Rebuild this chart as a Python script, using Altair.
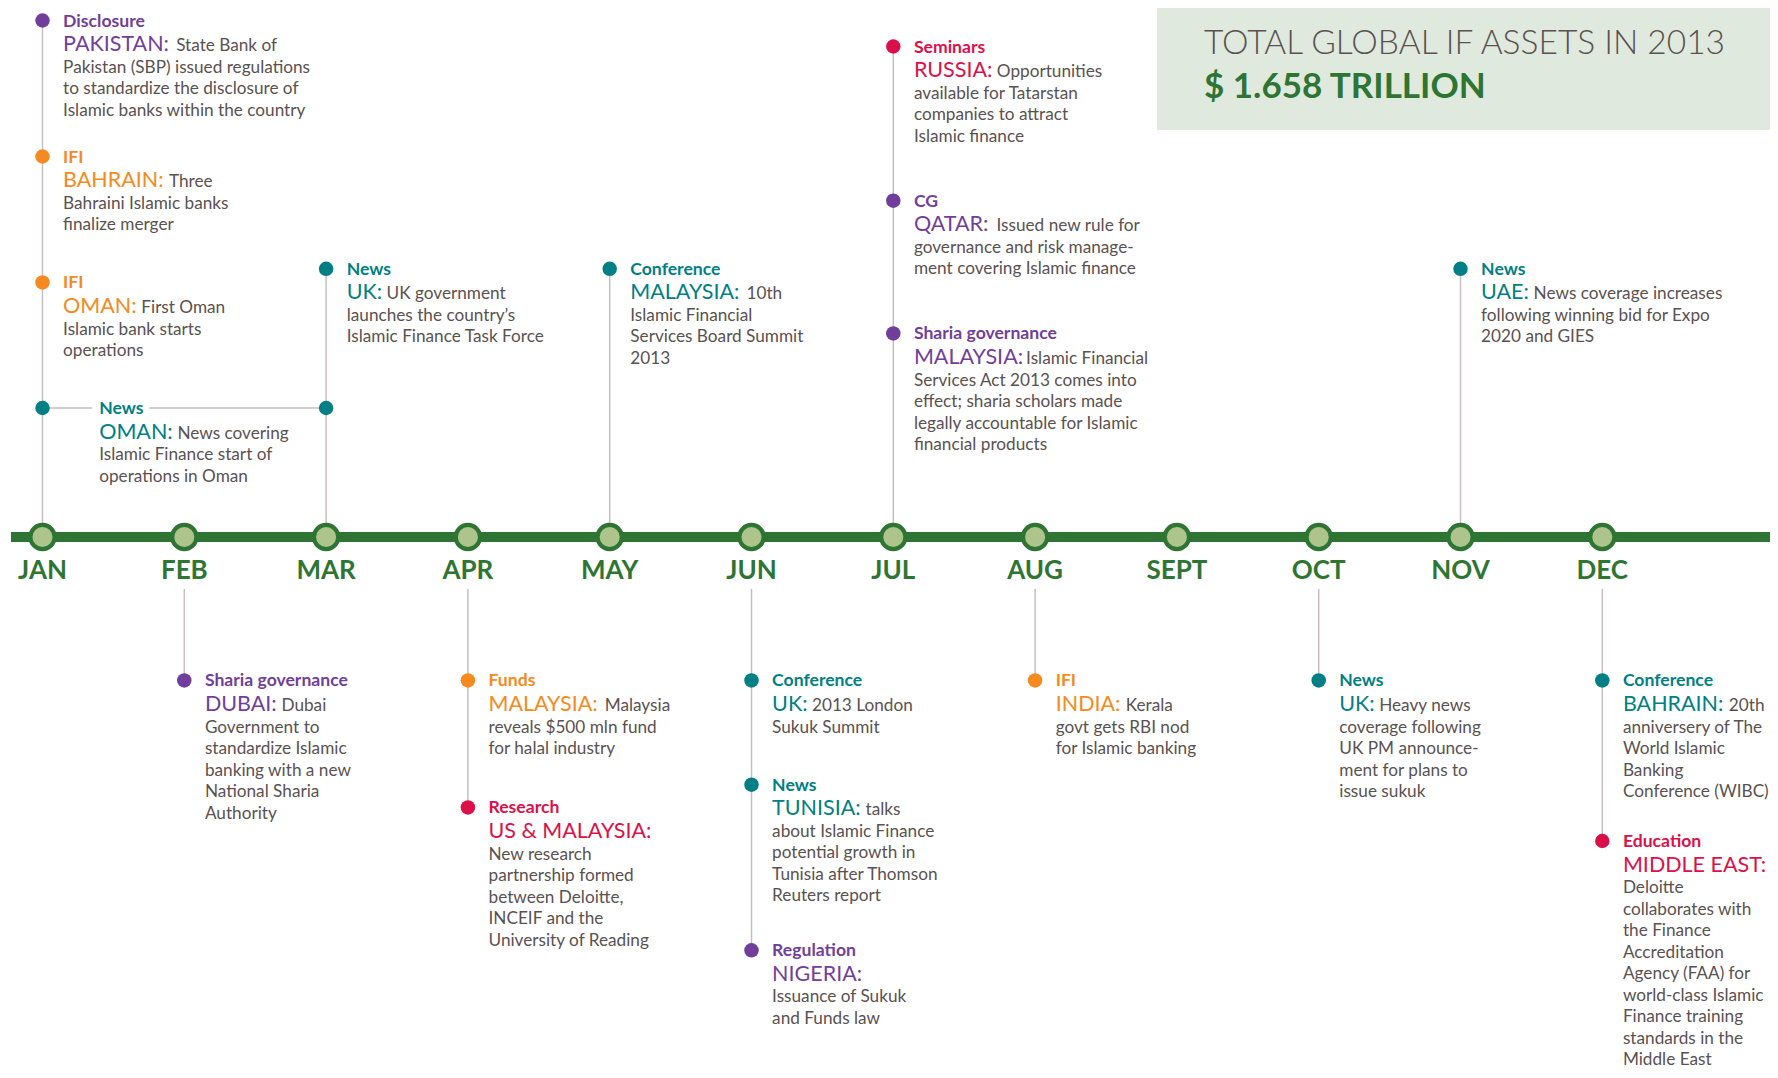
import altair as alt
import pandas as pd

# ---------------- data ----------------
months = ["JAN", "FEB", "MAR", "APR", "MAY", "JUN", "JUL", "AUG", "SEPT", "OCT", "NOV", "DEC"]

ev_month = [0, 0, 0, 0, 2, 4, 6, 6, 6, 10, 1, 3, 3, 5, 5, 5, 7, 9, 11, 11]
ev_slot = [20.5, 156.5, 282.4, 408.0, 268.8, 268.8, 46.5, 200.7, 333.4, 268.8,
           680.4, 680.4, 807.4, 680.4, 784.7, 950.3, 680.4, 680.4, 680.4, 841.0]
ev_cat = ["Disclosure", "IFI", "IFI", "News", "News", "Conference", "Seminars", "CG",
          "Sharia governance", "News", "Sharia governance", "Funds", "Research", "Conference",
          "News", "Regulation", "IFI", "News", "Conference", "Education"]
ev_country = ["PAKISTAN", "BAHRAIN", "OMAN", "OMAN", "UK", "MALAYSIA", "RUSSIA", "QATAR",
              "MALAYSIA", "UAE", "DUBAI", "MALAYSIA", "US & MALAYSIA", "UK", "TUNISIA",
              "NIGERIA", "INDIA", "UK", "BAHRAIN", "MIDDLE EAST"]
ev_desc = [
    ["State Bank of", "Pakistan (SBP) issued regulations", "to standardize the disclosure of",
     "Islamic banks within the country"],
    ["Three", "Bahraini Islamic banks", "finalize merger"],
    ["First Oman", "Islamic bank starts", "operations"],
    ["News covering", "Islamic Finance start of", "operations in Oman"],
    ["UK government", "launches the country’s", "Islamic Finance Task Force"],
    ["10th", "Islamic Financial", "Services Board Summit", "2013"],
    ["Opportunities", "available for Tatarstan", "companies to attract", "Islamic finance"],
    ["Issued new rule for", "governance and risk manage-", "ment covering Islamic finance"],
    ["Islamic Financial", "Services Act 2013 comes into", "effect; sharia scholars made",
     "legally accountable for Islamic", "financial products"],
    ["News coverage increases", "following winning bid for Expo", "2020 and GIES"],
    ["Dubai", "Government to", "standardize Islamic", "banking with a new", "National Sharia",
     "Authority"],
    ["Malaysia", "reveals $500 mln fund", "for halal industry"],
    ["", "New research", "partnership formed", "between Deloitte,", "INCEIF and the",
     "University of Reading"],
    ["2013 London", "Sukuk Summit"],
    ["talks", "about Islamic Finance", "potential growth in", "Tunisia after Thomson",
     "Reuters report"],
    ["", "Issuance of Sukuk", "and Funds law"],
    ["Kerala", "govt gets RBI nod", "for Islamic banking"],
    ["Heavy news", "coverage following", "UK PM announce-", "ment for plans to", "issue sukuk"],
    ["20th", "anniversery of The", "World Islamic", "Banking", "Conference (WIBC)"],
    ["", "Deloitte", "collaborates with", "the Finance", "Accreditation", "Agency (FAA) for",
     "world-class Islamic", "Finance training", "standards in the", "Middle East"],
]
# link: JAN "News" (event 3) joined to a dot on the MAR stem
link_from_month, link_to_month, link_slot = 0, 2, 408.0

cats = ["Disclosure", "IFI", "News", "Conference", "Seminars", "CG", "Sharia governance",
        "Funds", "Research", "Regulation", "Education"]
cat_colors = ["#713f9b", "#f48a20", "#007f84", "#007f84", "#db1049", "#713f9b", "#713f9b",
              "#f48a20", "#db1049", "#713f9b", "#db1049"]

title_line1 = "TOTAL GLOBAL IF ASSETS IN 2013"
title_line2 = "$ 1.658 TRILLION"

# ---------------- layout / style ----------------
W, H = 1762, 1062
MARGIN = 8
X0 = 42.5
STEP = 141.8
LINE_Y = 537.0
MONTH_LABEL_Y = 579.0
BELOW_START = 589.0
TEXT_DX = 20.6
LABEL_DY = 6.0
COUNTRY_DY = 30.6
LINE_STEP = 21.5
GAP = 5.0
COUNTRY_SIZE = 21.5
DESC_SIZE = 17.2
LABEL_SIZE = 17.6
FONT = "Lato"

GREEN = "#2e7533"
LIGHT_GREEN = "#adc48c"
GRAY_TEXT = "#5a5151"
GRAY_LINE = "#c6bfc1"
BOX = "#e0e9de"

indent_override = {3: 56.7}
no_gap = {8}

UP_W = {'A': .685, 'B': .636, 'C': .684, 'D': .75, 'E': .562, 'F': .545, 'G': .72, 'H': .764,
        'I': .295, 'K': .658, 'L': .498, 'M': .93, 'N': .764, 'O': .792, 'P': .592, 'Q': .792,
        'R': .628, 'S': .526, 'T': .585, 'U': .728, 'Y': .634, ' ': .193, ':': .235, '&': .69}


def text_w(s, size):
    return sum(UP_W.get(c, .6) for c in s) * size


def px_to_m(px):
    return (px - X0) / STEP


d0 = px_to_m(MARGIN)
d1 = px_to_m(MARGIN + W)
xs = alt.Scale(domain=[d0, d1], nice=False, zero=False)
ys = alt.Scale(domain=[MARGIN, MARGIN + H], nice=False, zero=False, reverse=True)
cscale = alt.Scale(domain=cats, range=cat_colors)

# ---------------- tables ----------------
text_rows = []
for i in range(len(ev_month)):
    m = ev_month[i]
    yy = ev_slot[i]
    ind = indent_override.get(i, TEXT_DX)
    text_rows.append(dict(m=m + ind / STEP, y=yy + LABEL_DY, text=ev_cat[i], kind="label", cat=ev_cat[i]))
    ctext = ev_country[i] + ":"
    text_rows.append(dict(m=m + ind / STEP, y=yy + COUNTRY_DY, text=ctext, kind="country", cat=ev_cat[i]))
    for k, line in enumerate(ev_desc[i]):
        if k == 0:
            if not line:
                continue
            off = ind + text_w(ctext, COUNTRY_SIZE) + (1.0 if i in no_gap else GAP)
        else:
            off = ind
        text_rows.append(dict(m=m + off / STEP, y=yy + COUNTRY_DY + LINE_STEP * k, text=line,
                              kind="desc", cat=ev_cat[i]))
tdf = pd.DataFrame(text_rows)

dots = pd.DataFrame(dict(m=ev_month + [link_to_month], y=ev_slot + [link_slot],
                         cat=ev_cat + ["News"]))

# stems
rules = []
for mo in sorted(set(ev_month)):
    above = [ev_slot[i] for i in range(len(ev_month)) if ev_month[i] == mo and ev_slot[i] < LINE_Y]
    below = [ev_slot[i] for i in range(len(ev_month)) if ev_month[i] == mo and ev_slot[i] > LINE_Y]
    if above:
        rules.append(dict(m=mo, m2=mo, y=min(above), y2=LINE_Y))
    if below:
        rules.append(dict(m=mo, m2=mo, y=BELOW_START, y2=max(below)))
# horizontal link with a gap around the label
lab_start = indent_override[3]
lab_end = lab_start + 42
rules.append(dict(m=link_from_month, m2=link_from_month + (lab_start - 7) / STEP, y=link_slot, y2=link_slot))
rules.append(dict(m=link_from_month + (lab_end + 8) / STEP, m2=link_to_month, y=link_slot, y2=link_slot))
rdf = pd.DataFrame(rules)

mdf = pd.DataFrame(dict(m=list(range(12)), y=[LINE_Y] * 12, ly=[MONTH_LABEL_Y] * 12, text=months))


def X(f="m"):
    return alt.X(f"{f}:Q", scale=xs, axis=None)


def Y(f="y"):
    return alt.Y(f"{f}:Q", scale=ys, axis=None)


box = alt.Chart(pd.DataFrame(dict(m=[px_to_m(1157)], m2=[d1], y=[MARGIN], y2=[130.0]))).mark_rect(
    color=BOX).encode(x=X(), x2="m2:Q", y=Y(), y2="y2:Q")

title = alt.Chart(pd.DataFrame(dict(m=[px_to_m(1204)], y=[54.0], text=[title_line1]))).mark_text(
    align="left", baseline="alphabetic", font=FONT, fontSize=33.5, fontWeight=300, color=GRAY_TEXT
).encode(x=X(), y=Y(), text="text:N")
title2 = alt.Chart(pd.DataFrame(dict(m=[px_to_m(1204)], y=[98.0], text=[title_line2]))).mark_text(
    align="left", baseline="alphabetic", font=FONT, fontSize=35, fontWeight="bold", color=GREEN
).encode(x=X(), y=Y(), text="text:N")

stems = alt.Chart(rdf).mark_rule(color=GRAY_LINE, strokeWidth=1.5).encode(
    x=X(), x2="m2:Q", y=Y(), y2="y2:Q")

timeline = alt.Chart(pd.DataFrame(dict(m=[px_to_m(11)], m2=[d1], y=[LINE_Y]))).mark_rule(
    color=GREEN, strokeWidth=10).encode(x=X(), x2="m2:Q", y=Y())

mcircles = alt.Chart(mdf).mark_point(shape="circle", filled=True, fill=LIGHT_GREEN, stroke=GREEN,
                                     strokeWidth=4.2, size=590, opacity=1).encode(x=X(), y=Y())
mlabels = alt.Chart(mdf).mark_text(font=FONT, fontSize=26, fontWeight="bold", color=GREEN,
                                   baseline="alphabetic", align="center").encode(
    x=X(), y=Y("ly"), text="text:N")

edots = alt.Chart(dots).mark_circle(size=210, opacity=1).encode(
    x=X(), y=Y(), color=alt.Color("cat:N", scale=cscale, legend=None))

labels = alt.Chart(tdf).transform_filter("datum.kind == 'label'").mark_text(
    align="left", baseline="alphabetic", font=FONT, fontSize=LABEL_SIZE, fontWeight="bold").encode(
    x=X(), y=Y(), text="text:N", color=alt.Color("cat:N", scale=cscale, legend=None))
countries = alt.Chart(tdf).transform_filter("datum.kind == 'country'").mark_text(
    align="left", baseline="alphabetic", font=FONT, fontSize=COUNTRY_SIZE).encode(
    x=X(), y=Y(), text="text:N", color=alt.Color("cat:N", scale=cscale, legend=None))
descs = alt.Chart(tdf).transform_filter("datum.kind == 'desc'").mark_text(
    align="left", baseline="alphabetic", font=FONT, fontSize=DESC_SIZE, color=GRAY_TEXT).encode(
    x=X(), y=Y(), text="text:N")

chart = alt.layer(box, title, title2, stems, timeline, mcircles, mlabels, edots, labels, countries, descs
                  ).properties(width=W, height=H, padding=0, background="white",
                               autosize=alt.AutoSizeParams(type="none")
                  ).configure_view(stroke=None)

chart.save("out.html", embed_options={"renderer": "svg", "actions": False})
